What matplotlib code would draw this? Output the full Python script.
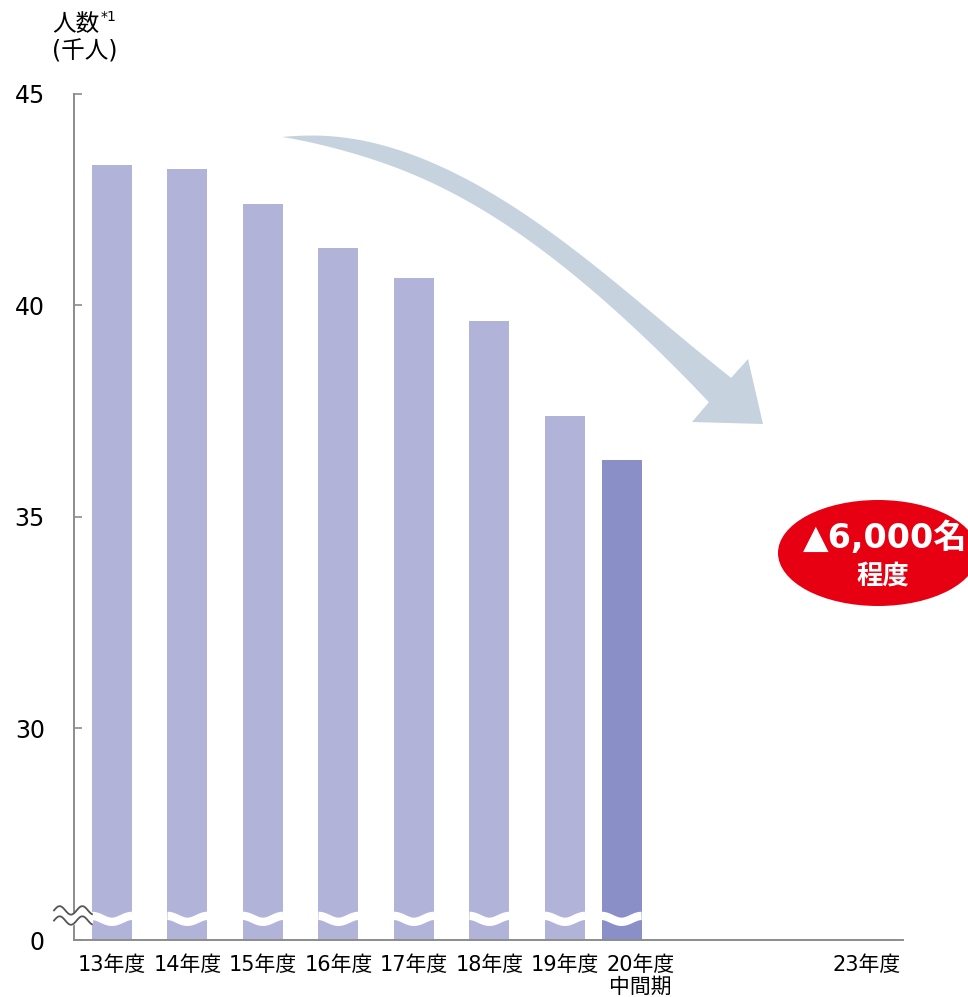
import numpy as np
import matplotlib.pyplot as plt
from matplotlib.patches import Polygon, Ellipse

plt.rcParams['font.family'] = ['DejaVu Sans', 'Noto Sans CJK JP']

# data (thousand people)
years = ['13年度', '14年度', '15年度', '16年度', '17年度', '18年度', '19年度', '20年度\n中間期', '23年度']
headcount = [43.32, 43.22, 42.39, 41.37, 40.66, 39.64, 37.39, 36.35]
bar_pos = [0, 1, 2, 3, 4, 5, 6, 6.75]
label_pos = [0, 1, 2, 3, 4, 5, 6, 7, 10]
bar_colors = ['#b2b3d8'] * 7 + ['#8b8fc8']
yticks = [25, 30, 35, 40, 45]
ytick_labels = ['0', '30', '35', '40', '45']
reduction = '▲6,000名'
reduction_sub = '程度'

W, H = 968, 997
AXIS_GRAY = '#8c8c8c'


def px(x, y):
    # pixel (from top-left) -> figure fraction
    return x / W, 1 - y / H


fig = plt.figure(figsize=(W / 100, H / 100), dpi=100)
ax = fig.add_axes([74 / W, 57 / H, 829 / W, 846 / H])

bar_w = 0.53
ax.bar(bar_pos, headcount, width=bar_w, color=bar_colors, zorder=2)
ax.set_xlim(-0.503, 10.477)
ax.set_ylim(25, 45)

for s in ['top', 'right']:
    ax.spines[s].set_visible(False)
for s in ['left', 'bottom']:
    ax.spines[s].set_color(AXIS_GRAY)
    ax.spines[s].set_linewidth(1.4)

ax.set_yticks(yticks, ytick_labels, fontsize=17)
ax.tick_params(axis='y', direction='in', length=6, width=1.2, color=AXIS_GRAY, pad=21)
ax.set_xticks(label_pos, years, fontsize=15, linespacing=1.1)
ax.tick_params(axis='x', length=0, pad=11)

# white wave across bars (axis break)
wave_y = 25.5
for x in bar_pos:
    u = np.linspace(-bar_w / 2, bar_w / 2, 60)
    ax.plot(x + u, wave_y - 0.07 * np.cos(2 * np.pi * u / bar_w), color='white',
            lw=6, zorder=3, solid_capstyle='butt')

# break mark on the y axis
bx = np.linspace(-0.768, -0.265, 80)
ph = 2 * np.pi * (bx - bx[0]) / 0.3
y_up = 25.7 + 0.1 * np.sin(ph)
y_lo = 25.46 + 0.1 * np.sin(ph)
ax.fill_between(bx, y_lo, y_up, color='white', zorder=4, clip_on=False)
ax.plot(bx, y_up, color='#555555', lw=1.3, zorder=5, clip_on=False)
ax.plot(bx, y_lo, color='#555555', lw=1.3, zorder=5, clip_on=False)

# curved arrow
P = np.array([[282, 137], [452, 142], [580, 262], [720, 390]], dtype=float)
t = np.linspace(0, 1, 200)[:, None]
B = ((1 - t) ** 3 * P[0] + 3 * (1 - t) ** 2 * t * P[1]
     + 3 * (1 - t) * t ** 2 * P[2] + t ** 3 * P[3])
dB = (3 * (1 - t) ** 2 * (P[1] - P[0]) + 6 * (1 - t) * t * (P[2] - P[1])
      + 3 * t ** 2 * (P[3] - P[2]))
dB /= np.linalg.norm(dB, axis=1)[:, None]
nrm = np.column_stack([dB[:, 1], -dB[:, 0]])
half = 9.5 * np.tanh(t / 0.15) + 7 * t ** 6
upper = B + nrm * half
lower = B - nrm * half
head = np.array([[748, 359], [763, 424], [692, 422]], dtype=float)
pts = np.vstack([upper, head, lower[::-1]])
pts_fig = np.array([px(x, y) for x, y in pts])
fig.add_artist(Polygon(pts_fig, closed=True, transform=fig.transFigure,
                       facecolor='#c6d3df', edgecolor='none'))

# red callout
fig.add_artist(Ellipse(px(878, 553), 200 / W, 106 / H, transform=fig.transFigure,
                       facecolor='#e60012', edgecolor='none'))
fig.text(*px(885, 538), reduction, color='white', fontsize=24, fontweight='bold',
         ha='center', va='center')
fig.text(*px(883, 577), reduction_sub, color='white', fontsize=19, fontweight='bold',
         ha='center', va='center')

# y axis title
fig.text(*px(52, 24), '人数', fontsize=17, va='center')
fig.text(*px(101, 17), '*1', fontsize=10, va='center')
fig.text(*px(52, 52), '(千人)', fontsize=17, va='center')

fig.savefig('out.png', dpi=100)
